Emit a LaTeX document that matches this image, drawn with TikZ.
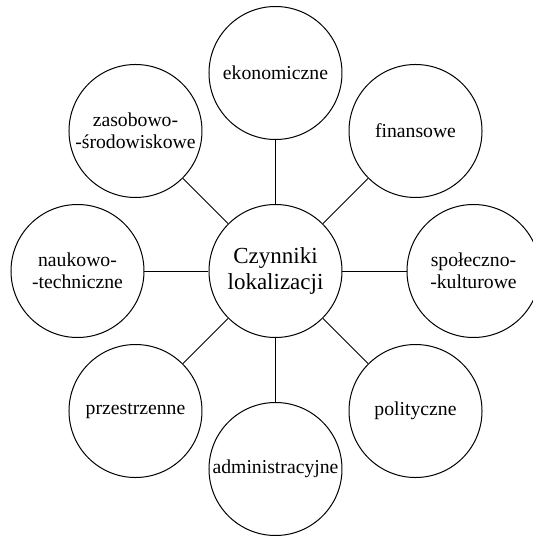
\documentclass[tikz,border=0pt]{standalone}
\usepackage{fontspec}
\setmainfont{Liberation Serif}
\tikzset{
  factor/.style = {draw, circle, minimum size = 133pt, inner sep = 0pt, align = center,
    font = \fontsize{19.7}{22.5}\selectfont},
  hub/.style = {factor, font = \fontsize{23}{26.5}\selectfont}
}
\begin{document}
\begin{tikzpicture}[x = 1pt, y = 1pt, line width = 1pt]
\useasboundingbox (-275.5,-265) rectangle (257.5,271);
\clip (-275.5,-265) rectangle (257.5,271);
\node[hub] (czynniki) at (0,0) {Czynniki\\lokalizacji};
\foreach \name / \ang / \txt in {ekonomiczne/90/{ekonomiczne},
  finansowe/45/{finansowe},
  spoleczne/0/{społeczno-\\-kulturowe},
  polityczne/-45/{polityczne},
  administracyjne/-90/{administracyjne},
  przestrzenne/-135/{przestrzenne},
  naukowe/180/{naukowo-\\-techniczne},
  zasobowe/135/{zasobowo-\\-środowiskowe}}
{
	\node[factor] (\name) at (\ang:198pt) {\txt};
	\draw (czynniki) -- (\name);
}
\end{tikzpicture}
\end{document}
